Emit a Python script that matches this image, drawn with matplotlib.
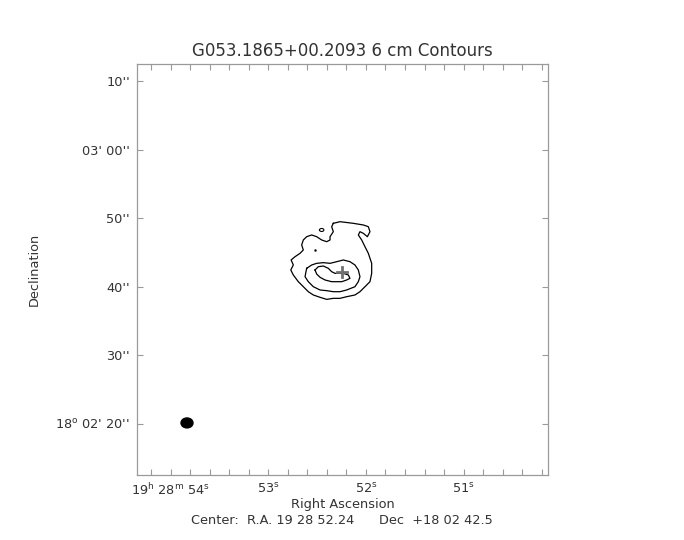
import numpy as np
import matplotlib
matplotlib.use("Agg")
import matplotlib.pyplot as plt
from matplotlib.patches import Ellipse

# ---- data ----
title = "G053.1865+00.2093 6 cm Contours"
ra0_s = 52.24          # 19h28m52.24s
dec0_as = 42.5         # +18d02'42.5"
dec0_deg = 18.0 + 2/60 + 42.5/3600
half_field = 30.0      # arcsec

# contour paths, offsets in arcsec (east, north) from centre
outer_e = [1.34, 0.36, -1.58, -3.04, -3.77, -4.01, -3.63, -3.04, -2.55, -2.31, -2.80, -3.28,
           -3.77, -4.26, -4.26, -4.01, -3.28, -2.55, -1.82, -0.61, 0.36, 1.34, 2.31, 3.28,
           4.26, 4.99, 5.72, 6.45, 7.18, 7.55, 7.18, 7.50, 6.93, 6.20, 5.72, 5.96, 5.72,
           5.23, 4.50, 3.77, 3.04, 2.31, 1.82, 1.82, 1.34, 1.58]
outer_n = [6.74, 6.98, 6.74, 6.50, 6.25, 5.52, 4.79, 5.28, 5.52, 5.04, 4.31, 3.33,
           2.36, 0.90, -0.56, -1.78, -2.51, -3.24, -3.72, -3.97, -4.21, -4.21, -4.36, -4.06,
           -3.72, -3.24, -2.51, -1.78, -0.80, -0.07, 0.66, 1.39, 1.87, 2.36, 2.85, 3.58, 4.31,
           4.79, 5.04, 4.79, 4.31, 4.06, 4.31, 4.79, 5.52, 6.25]
middle_e = [5.23, 4.50, 3.77, 2.80, 1.82, 0.85, -0.12, -1.09, -1.82, -2.31, -2.55, -2.31,
            -1.82, -0.61, 0.36, 1.34, 2.31, 3.28, 4.26, 4.99, 5.47, 5.33]
middle_n = [0.17, 0.66, 0.90, 1.00, 0.90, 1.14, 1.39, 1.14, 0.66, -0.07, -1.05, -1.78,
            -2.51, -2.99, -3.24, -3.24, -3.09, -2.99, -2.51, -1.78, -1.05, -0.32]
inner_e = [4.01, 3.53, 2.80, 2.07, 1.58, 1.09, 0.61, -0.12, -0.85, -1.09, -0.61, 0.12,
           0.85, 1.58, 2.55, 3.28, 3.77]
inner_n = [-0.07, 0.41, 0.51, 0.17, -0.32, -0.56, -0.56, -0.56, -0.80, -1.29, -1.53, -1.78,
           -1.78, -1.78, -1.53, -1.14, -0.66]
blob_e, blob_n, blob_re, blob_rn = 3.04, 5.77, 0.32, 0.22
dot_e, dot_n = 4.01, 2.85
peak_e, peak_n = 0.12, -0.32
cross_arm = 0.75
beam_e, beam_n, beam_w, beam_h = 22.7, -22.4, 1.75, 1.45

ra_major = [51, 52, 53, 54]
ra_labels = [r"51$^{\rm s}$", r"52$^{\rm s}$", r"53$^{\rm s}$",
             r"19$^{\rm h}$ 28$^{\rm m}$ 54$^{\rm s}$"]
dec_major = [20, 30, 40, 50, 60, 70]
dec_labels = [r"18$^{\rm o}$ 02' 20''", "30''", "40''", "50''", "03' 00''", "10''"]
center_text = "Center:  R.A. 19 28 52.24      Dec  +18 02 42.5"

# ---- helpers ----
sec_per_as = 1.0 / (15.0 * np.cos(np.radians(dec0_deg)))
def to_ra(e):
    return ra0_s + np.asarray(e) * sec_per_as
def to_dec(n):
    return dec0_as + np.asarray(n)

fig = plt.figure(figsize=(6.84, 5.40), dpi=100)
ax = fig.add_axes([137/684, 65/540, 411/684, 411/540])

gray = "#9a9a9a"
txt = "#333333"

for e, n in [(outer_e, outer_n), (middle_e, middle_n), (inner_e, inner_n)]:
    e = list(e) + [e[0]]
    n = list(n) + [n[0]]
    ax.plot(to_ra(e), to_dec(n), color="black", lw=0.9)

t = np.linspace(0, 2*np.pi, 40)
ax.plot(to_ra(blob_e + blob_re*np.cos(t)), to_dec(blob_n + blob_rn*np.sin(t)), color="black", lw=0.8)
ax.plot(to_ra([dot_e]), to_dec([dot_n]), marker='.', ms=1.5, color="black")

# peak cross
ax.plot(to_ra([peak_e - cross_arm, peak_e + cross_arm]), to_dec([peak_n, peak_n]), color="#707070", lw=2)
ax.plot(to_ra([peak_e, peak_e]), to_dec([peak_n - cross_arm, peak_n + cross_arm]), color="#707070", lw=2)

# beam
ax.add_patch(Ellipse((float(to_ra(beam_e)), float(to_dec(beam_n))), beam_w*sec_per_as, beam_h,
                     facecolor="black", edgecolor="black"))

ax.set_xlim(to_ra(half_field), to_ra(-half_field))
ax.set_ylim(to_dec(-half_field), to_dec(half_field))

ax.set_xticks(ra_major)
ax.set_xticklabels(ra_labels)
ax.set_xticks(np.arange(50.2, 54.4, 0.2), minor=True)
ax.set_yticks(dec_major)
ax.set_yticklabels(dec_labels)

ax.tick_params(which='both', direction='in', length=4.5, width=0.8, color=gray,
               top=True, right=True, labelsize=9.3, labelcolor=txt, pad=5)
for sp in ax.spines.values():
    sp.set_color(gray)
    sp.set_linewidth(0.9)

ax.set_title(title, fontsize=12, color=txt, pad=6)
ax.set_xlabel("Right Ascension", fontsize=9.3, color=txt, labelpad=0)
ax.set_ylabel("Declination", fontsize=9.3, color=txt, labelpad=0)
ax.yaxis.set_label_coords(-0.234, 0.5)
fig.text(342/684, 1 - 521/540, center_text, ha='center', va='center', fontsize=9.3, color=txt)

fig.savefig("out.png", dpi=100)
